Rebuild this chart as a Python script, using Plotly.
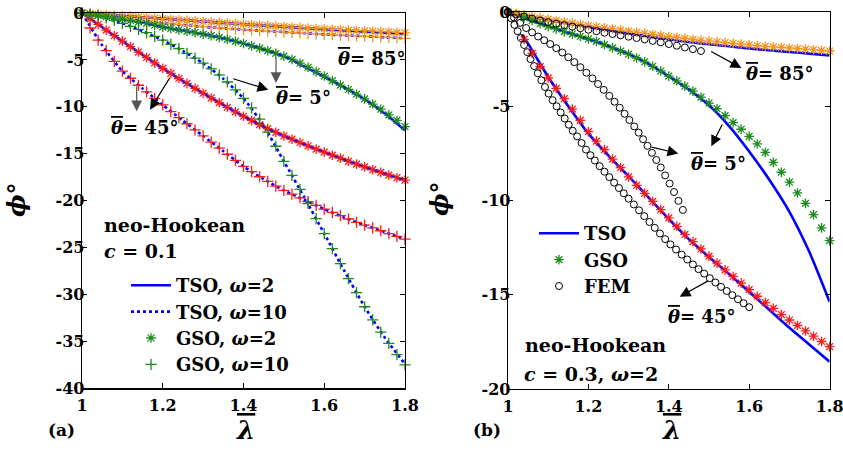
import plotly.graph_objects as go

# ---------------- data ----------------
LAM_A = [1.00,1.02,1.04,1.06,1.08,1.10,1.12,1.14,1.16,1.18,1.20,1.22,1.24,1.26,1.28,1.30,1.32,1.34,1.36,1.38,
         1.40,1.42,1.44,1.46,1.48,1.50,1.52,1.54,1.56,1.58,1.60,1.62,1.64,1.66,1.68,1.70,1.72,1.74,1.76,1.78,1.80]
LAM_LINE = [1.00,1.05,1.10,1.15,1.20,1.25,1.30,1.35,1.40,1.45,1.50,1.55,1.60,1.65,1.70,1.75,1.80]

# panel (a) GSO markers
A_GSO_85_W2 = [0,-0.06,-0.12,-0.18,-0.24,-0.30,-0.36,-0.42,-0.48,-0.54,-0.60,-0.66,-0.72,-0.78,-0.84,-0.90,-0.96,-1.02,-1.08,-1.14,
               -1.20,-1.25,-1.30,-1.35,-1.40,-1.45,-1.50,-1.55,-1.60,-1.65,-1.70,-1.74,-1.78,-1.82,-1.86,-1.90,-1.94,-1.98,-2.02,-2.06,-2.10]
A_GSO_85_W10 = [0,-0.13,-0.26,-0.38,-0.50,-0.61,-0.71,-0.81,-0.90,-0.99,-1.08,-1.16,-1.24,-1.32,-1.40,-1.47,-1.54,-1.60,-1.66,-1.72,
                -1.78,-1.83,-1.88,-1.93,-1.98,-2.03,-2.08,-2.13,-2.18,-2.23,-2.28,-2.32,-2.36,-2.40,-2.44,-2.48,-2.52,-2.56,-2.60,-2.64,-2.70]
A_GSO_5_W2 = [0,-0.12,-0.25,-0.38,-0.51,-0.65,-0.80,-0.95,-1.10,-1.30,-1.50,-1.65,-1.80,-1.95,-2.10,-2.25,-2.42,-2.60,-2.80,-3.02,
              -3.25,-3.50,-3.75,-4.02,-4.30,-4.60,-4.95,-5.35,-5.78,-6.25,-6.72,-7.20,-7.68,-8.15,-8.65,-9.15,-9.70,-10.25,-10.85,-11.45,-12.10]
A_GSO_5_W10 = [0,-0.15,-0.32,-0.52,-0.78,-1.10,-1.42,-1.75,-2.10,-2.50,-2.90,-3.35,-3.80,-4.30,-4.80,-5.35,-5.95,-6.60,-7.35,-8.20,
               -9.10,-10.10,-11.30,-12.70,-14.20,-15.80,-17.30,-18.80,-20.30,-21.90,-23.50,-25.10,-26.70,-28.30,-29.80,-31.30,-32.70,-34.00,-35.20,-36.40,-37.50]
A_GSO_45_W2 = [0,-0.62,-1.22,-1.82,-2.42,-3.00,-3.58,-4.16,-4.74,-5.32,-5.90,-6.44,-6.98,-7.50,-8.03,-8.55,-9.05,-9.55,-10.05,-10.53,
               -11.00,-11.45,-11.90,-12.32,-12.72,-13.10,-13.45,-13.80,-14.15,-14.50,-14.82,-15.15,-15.47,-15.80,-16.10,-16.40,-16.70,-16.98,-17.27,-17.55,-17.80]
A_GSO_45_W10 = [0,-1.60,-2.90,-4.00,-5.15,-6.20,-6.95,-7.70,-8.40,-9.10,-9.80,-10.50,-11.15,-11.80,-12.45,-13.10,-13.75,-14.40,-15.05,-15.70,
                -16.35,-16.90,-17.45,-17.95,-18.45,-18.90,-19.30,-19.70,-20.10,-20.50,-20.90,-21.25,-21.60,-21.95,-22.30,-22.60,-22.90,-23.20,-23.50,-23.80,-24.10]

# panel (a) TSO curves
A_TSO_85_W2 = [0,-0.15,-0.30,-0.45,-0.60,-0.75,-0.90,-1.05,-1.20,-1.33,-1.46,-1.60,-1.73,-1.86,-1.98,-2.10,-2.20]
A_TSO_85_W10 = [0,-0.32,-0.61,-0.86,-1.08,-1.28,-1.47,-1.63,-1.78,-1.90,-2.03,-2.15,-2.28,-2.38,-2.48,-2.59,-2.70]
A_TSO_5_W2 = [0,-0.32,-0.65,-1.02,-1.50,-1.87,-2.25,-2.70,-3.25,-3.88,-4.60,-5.70,-6.80,-7.95,-9.20,-10.70,-12.50]
A_TSO_5_W10 = [0,-0.42,-1.10,-1.95,-2.90,-4.05,-5.35,-7.00,-9.10,-12.00,-15.80,-19.60,-23.50,-27.50,-31.30,-34.60,-37.40]
A_TSO_45_W2 = [0,-1.52,-3.00,-4.45,-5.90,-7.25,-8.55,-9.80,-11.00,-12.10,-13.10,-13.98,-14.82,-15.62,-16.40,-17.12,-17.80]
A_TSO_45_W10 = [0,-3.45,-6.20,-8.05,-9.80,-11.48,-13.10,-14.72,-16.35,-17.70,-18.90,-19.90,-20.90,-21.80,-22.60,-23.35,-24.10]

# panel (b) TSO curves
B_TSO_85 = [0,-0.21,-0.42,-0.61,-0.80,-0.97,-1.14,-1.30,-1.45,-1.59,-1.71,-1.82,-1.93,-2.03,-2.12,-2.21,-2.30]
B_TSO_5 = [0,-0.37,-0.75,-1.10,-1.45,-1.82,-2.22,-2.75,-3.42,-4.12,-4.95,-6.05,-7.40,-8.90,-10.60,-12.75,-15.37]
LAM_B_TSO45 = [1.035,1.05,1.10,1.15,1.20,1.25,1.30,1.35,1.40,1.45,1.50,1.55,1.60,1.65,1.70,1.75,1.80]
B_TSO_45 = [-1.20,-1.68,-3.45,-5.00,-6.45,-7.62,-8.72,-9.85,-10.98,-12.05,-13.00,-13.90,-14.85,-15.80,-16.75,-17.65,-18.55]

# panel (b) GSO markers
B_GSO_85 = [0,-0.08,-0.16,-0.24,-0.31,-0.38,-0.45,-0.52,-0.59,-0.66,-0.72,-0.78,-0.84,-0.90,-0.96,-1.02,-1.08,-1.13,-1.19,-1.24,
            -1.30,-1.35,-1.40,-1.45,-1.50,-1.54,-1.58,-1.62,-1.66,-1.70,-1.74,-1.78,-1.82,-1.85,-1.88,-1.91,-1.94,-1.97,-2.00,-2.03,-2.07]
LAM_B_GSO = [1.04,1.06,1.08,1.10,1.12,1.14,1.16,1.18,1.20,1.22,1.24,1.26,1.28,1.30,1.32,1.34,1.36,1.38,1.40,1.42,
             1.44,1.46,1.48,1.50,1.52,1.54,1.56,1.58,1.60,1.62,1.64,1.66,1.68,1.70,1.72,1.74,1.76,1.78,1.80]
B_GSO_5 = [-0.30,-0.45,-0.62,-0.77,-0.90,-1.04,-1.17,-1.30,-1.43,-1.56,-1.73,-1.90,-2.07,-2.24,-2.44,-2.65,-2.88,-3.13,-3.40,-3.65,
           -3.93,-4.20,-4.52,-4.83,-5.13,-5.50,-5.87,-6.22,-6.60,-7.00,-7.45,-7.98,-8.50,-9.03,-9.60,-10.15,-10.75,-11.45,-12.13]
B_GSO_45 = [-1.45,-2.20,-2.90,-3.50,-4.05,-4.60,-5.15,-5.75,-6.35,-6.85,-7.30,-7.80,-8.25,-8.75,-9.20,-9.62,-10.05,-10.48,-10.92,-11.37,
            -11.80,-12.18,-12.57,-12.95,-13.32,-13.68,-14.03,-14.38,-14.73,-15.08,-15.42,-15.72,-16.05,-16.34,-16.63,-16.92,-17.20,-17.48,-17.75]

# panel (b) FEM
LAM_FEM_85 = [1.00,1.02,1.04,1.06,1.08,1.10,1.12,1.14,1.16,1.18,1.20,1.22,1.24,1.26,1.28,1.30,1.32,1.34,1.36,1.38,1.40,1.42,1.44,1.46,1.48]
FEM_85 = [0,-0.13,-0.24,-0.35,-0.45,-0.54,-0.62,-0.70,-0.78,-0.86,-0.94,-1.02,-1.10,-1.17,-1.24,-1.31,-1.38,-1.45,-1.53,-1.61,-1.70,-1.79,-1.88,-1.97,-2.07]
LAM_FEM_5 = [1.0,1.015,1.03,1.045,1.06,1.075,1.09,1.105,1.12,1.135,1.15,1.165,1.18,1.195,1.21,1.224,1.238,1.252,1.265,1.278,
             1.29,1.302,1.314,1.325,1.336,1.347,1.358,1.369,1.38,1.391,1.402,1.413,1.424,1.435]
FEM_5 = [0,-0.3,-0.58,-0.85,-1.08,-1.3,-1.5,-1.7,-1.92,-2.15,-2.4,-2.66,-2.93,-3.22,-3.52,-3.82,-4.13,-4.45,-4.76,-5.08,
         -5.4,-5.73,-6.07,-6.4,-6.75,-7.1,-7.47,-7.85,-8.25,-8.67,-9.1,-9.55,-10.02,-10.5]
LAM_FEM_45 = [1.0,1.008,1.016,1.024,1.032,1.04,1.048,1.056,1.065,1.074,1.083,1.092,1.101,1.111,1.121,1.131,1.141,1.151,1.161,1.172,
              1.183,1.194,1.205,1.216,1.228,1.24,1.252,1.264,1.276,1.288,1.3,1.313,1.326,1.339,1.352,1.365,1.378,1.391,1.404,1.418,
              1.432,1.446,1.46,1.474,1.488,1.502,1.516,1.53,1.544,1.558,1.572,1.586,1.6]
FEM_45 = [0,-0.34,-0.68,-1.02,-1.38,-1.75,-2.13,-2.5,-2.87,-3.25,-3.62,-3.98,-4.33,-4.68,-5.0,-5.33,-5.65,-5.98,-6.3,-6.6,
          -6.95,-7.3,-7.6,-7.88,-8.18,-8.47,-8.76,-9.05,-9.34,-9.62,-9.9,-10.21,-10.52,-10.83,-11.14,-11.45,-11.75,-12.05,-12.33,-12.6,
          -12.87,-13.13,-13.39,-13.64,-13.88,-14.12,-14.35,-14.58,-14.8,-15.02,-15.24,-15.45,-15.66]

X_TICKS = [1, 1.2, 1.4, 1.6, 1.8]
X_TICKTEXT = ["1", "1.2", "1.4", "1.6", "1.8"]
YA_TICKS = [0, -5, -10, -15, -20, -25, -30, -35, -40]
YA_TICKTEXT = ["0", "-5", "-10", "-15", "-20", "-25", "-30", "-35", "-40"]
YB_TICKS = [0, -5, -10, -15, -20]
YB_TICKTEXT = ["0", "-5", "-10", "-15", "-20"]

# ---------------- style ----------------
W, H = 852, 456              # figure slightly larger than the 843x450 window so edge tick labels are kept
FONT = "DejaVu Serif"
BLUE = "#0000ff"
ORANGE = "#f5921e"
GREEN = "#1c8c1c"
RED = "#ff1a1a"

fig = go.Figure()

def line(x, y, dash, xa, ya, name=None, show=False, legend="legend", rank=1):
    fig.add_trace(go.Scatter(x=x, y=y, mode="lines", xaxis=xa, yaxis=ya,
                             line=dict(color=BLUE, width=2.6, dash=dash, shape="spline", smoothing=0.6),
                             name=name, showlegend=show, legend=legend, legendrank=rank,
                             hoverinfo="skip", cliponaxis=False))

def marks(x, y, symbol, color, xa, ya, size=8, name=None, show=False, legend="legend", rank=1, lw=1.3):
    fig.add_trace(go.Scatter(x=x, y=y, mode="markers", xaxis=xa, yaxis=ya,
                             marker=dict(symbol=symbol, size=size, color=color,
                                         line=dict(color=color, width=lw)),
                             name=name, showlegend=show, legend=legend, legendrank=rank,
                             hoverinfo="skip", cliponaxis=False))

# panel (a)
line(LAM_LINE, A_TSO_85_W2, "solid", "x", "y")
line(LAM_LINE, A_TSO_85_W10, "dot", "x", "y")
line(LAM_LINE, A_TSO_45_W2, "solid", "x", "y")
line(LAM_LINE, A_TSO_45_W10, "dot", "x", "y")
line(LAM_LINE, A_TSO_5_W2, "solid", "x", "y", name="TSO, <i>ω</i>=2", show=True, rank=1)
line(LAM_LINE, A_TSO_5_W10, "dot", "x", "y", name="TSO, <i>ω</i>=10", show=True, rank=2)
marks(LAM_A, A_GSO_85_W2, "asterisk-open", ORANGE, "x", "y")
marks(LAM_A, A_GSO_85_W10, "cross-thin-open", ORANGE, "x", "y")
marks(LAM_A, A_GSO_45_W2, "asterisk-open", RED, "x", "y")
marks(LAM_A, A_GSO_45_W10, "cross-thin-open", RED, "x", "y")
marks(LAM_A, A_GSO_5_W2, "asterisk-open", GREEN, "x", "y", name="GSO, <i>ω</i>=2", show=True, rank=3)
marks(LAM_A, A_GSO_5_W10, "cross-thin-open", GREEN, "x", "y", name="GSO, <i>ω</i>=10", show=True, rank=4)

# panel (b)
line(LAM_LINE, B_TSO_85, "solid", "x2", "y2")
line(LAM_B_TSO45, B_TSO_45, "solid", "x2", "y2")
line(LAM_LINE, B_TSO_5, "solid", "x2", "y2", name="TSO", show=True, legend="legend2", rank=1)
marks(LAM_A, B_GSO_85, "asterisk-open", ORANGE, "x2", "y2")
marks(LAM_B_GSO, B_GSO_45, "asterisk-open", RED, "x2", "y2")
marks(LAM_B_GSO, B_GSO_5, "asterisk-open", GREEN, "x2", "y2", name="GSO", show=True, legend="legend2", rank=2)
marks(LAM_FEM_85, FEM_85, "circle-open", "black", "x2", "y2", size=7, lw=1)
marks(LAM_FEM_45, FEM_45, "circle-open", "black", "x2", "y2", size=7, lw=1)
marks(LAM_FEM_5, FEM_5, "circle-open", "black", "x2", "y2", size=7, lw=1, name="FEM", show=True, legend="legend2", rank=3)

def sx(px):   # screen px -> paper x
    return px / W

def sy(py):   # screen px -> paper y
    return 1 - py / H

tickfont = dict(family=FONT, size=16, color="black", weight="bold")
axis_common = dict(showgrid=False, zeroline=False, showline=True, linecolor="black", linewidth=1.3,
                   mirror="ticks", ticks="inside", ticklen=5, tickwidth=1.1, tickcolor="black",
                   tickfont=tickfont, automargin=False)

fig.update_layout(
    width=W, height=H, margin=dict(l=0, r=0, t=0, b=0, autoexpand=False),
    paper_bgcolor="white", plot_bgcolor="white",
    xaxis=dict(domain=[sx(82), sx(405)], range=[1, 1.8], tickvals=X_TICKS, ticktext=X_TICKTEXT,
               anchor="y", ticklabelstandoff=2, **axis_common),
    yaxis=dict(domain=[sy(388.4), sy(13)], range=[-40, 0], tickvals=YA_TICKS, ticktext=YA_TICKTEXT,
               anchor="x", ticklabelstandoff=-7, **axis_common),
    xaxis2=dict(domain=[sx(508), sx(829.6)], range=[1, 1.8], tickvals=X_TICKS, ticktext=X_TICKTEXT,
                anchor="y2", ticklabelstandoff=2, **axis_common),
    yaxis2=dict(domain=[sy(389), sy(12)], range=[-20, 0], tickvals=YB_TICKS, ticktext=YB_TICKTEXT,
                anchor="x2", ticklabelstandoff=-7, **axis_common),
    legend=dict(x=sx(126), y=sy(267), xanchor="left", yanchor="top",
                bgcolor="rgba(0,0,0,0)", font=dict(family=FONT, size=18, color="black", weight="bold"),
                itemwidth=40, tracegroupgap=0),
    legend2=dict(x=sx(534), y=sy(215), xanchor="left", yanchor="top",
                 bgcolor="rgba(0,0,0,0)", font=dict(family=FONT, size=18, color="black", weight="bold"),
                 itemwidth=40, tracegroupgap=0),
)

TB = '<span style="text-decoration:overline">θ</span>'
LB = '<span style="text-decoration:overline">λ</span>'

def label(text, x, y, xref, yref, xanchor="center", size=18, angle=0):
    fig.add_annotation(text=text, x=x, y=y, xref=xref, yref=yref, showarrow=False,
                       xanchor=xanchor, yanchor="middle", textangle=angle,
                       font=dict(family=FONT, size=size, color="black", weight="bold"))

def arrow(x0, y0, x1, y1, xr, yr, color="black"):
    fig.add_annotation(x=x1, y=y1, ax=x0, ay=y0, xref=xr, yref=yr, axref=xr, ayref=yr,
                       text="", showarrow=True, arrowhead=2, arrowsize=1.8, arrowwidth=1.2,
                       arrowcolor=color)

# panel (a) text
label(f"<i>{TB}</i>= 85°", 1.7158, -4.85, "x", "y")
label(f"<i>{TB}</i>= 5°", 1.5486, -8.95, "x", "y")
label(f"<i>{TB}</i>= 45°", 1.156, -12.25, "x", "y")
label("neo-Hookean", 1.0495, -22.6, "x", "y", xanchor="left", size=19)
label("<i>c</i> = 0.1", 1.0495, -25.4, "x", "y", xanchor="left", size=19)
arrow(1.4805, -4.61, 1.4805, -7.46, "x", "y", color="#555555")
arrow(1.3708, -6.96, 1.4614, -8.17, "x", "y")
arrow(1.1354, -7.64, 1.1354, -10.47, "x", "y", color="#555555")
arrow(1.2197, -6.75, 1.1684, -10.3, "x", "y")

# panel (b) text
label(f"<i>{TB}</i>= 85°", 1.6766, -3.24, "x2", "y2")
label(f"<i>{TB}</i>= 5°", 1.5224, -8.06, "x2", "y2")
label(f"<i>{TB}</i>= 45°", 1.4813, -16.13, "x2", "y2")
label("neo-Hookean", 1.0373, -17.67, "x2", "y2", xanchor="left", size=19)
label("<i>c</i> = 0.3, <i>ω</i>=2", 1.0348, -19.2, "x2", "y2", xanchor="left", size=19)
arrow(1.5017, -2.05, 1.5804, -2.97, "x2", "y2")
arrow(1.3532, -7.15, 1.4236, -7.5, "x2", "y2")
arrow(1.5348, -5.89, 1.5057, -7.12, "x2", "y2")
arrow(1.5017, -14.22, 1.4271, -15.1, "x2", "y2")

# axis titles and panel tags
for cx in (245, 671):
    label(f"<i>{LB}</i>", sx(cx), sy(430), "paper", "paper", size=26)
for (cx, cy) in [(16, 200), (439, 199)]:
    label("<i>ϕ</i>°", sx(cx), sy(cy), "paper", "paper", size=24, angle=-90)
for (t, cx) in [("(a)", 61), ("(b)", 487)]:
    label(t, sx(cx), sy(430), "paper", "paper", size=17)

fig.write_html("out.html",
               config={"displayModeBar": False, "staticPlot": True},
               post_script="document.body.style.margin='0px';document.body.style.overflow='hidden';")
